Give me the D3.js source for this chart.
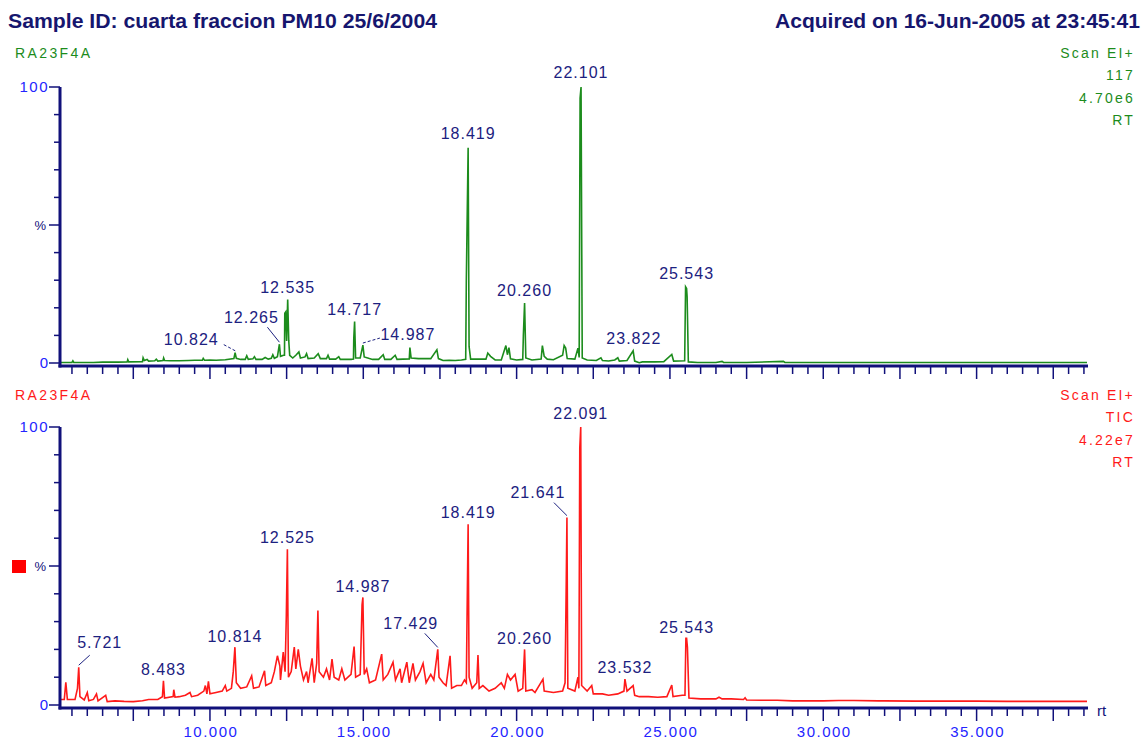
<!DOCTYPE html>
<html>
<head>
<meta charset="utf-8">
<script src="https://cdn.jsdelivr.net/npm/d3@7"></script>
<style>
  body { margin: 0; background: #fff; }
  svg { display: block; font-family: "Liberation Sans", Arial, sans-serif; }
</style>
</head>
<body>
<div id="chart"></div>
<script>
// ion 117 trace: [rt, %]
var ionTrace = [
  [5.11,0.2],[5.5,0.2],[5.53,0.8],[5.56,0.2],[6.2,0.2],[6.5,0.3],[7.0,0.3],[7.3,0.4],[7.32,1.2],[7.35,0.4],
  [7.8,0.5],[7.82,1.9],[7.86,0.9],[7.95,1.3],[8.0,0.7],[8.2,0.8],[8.25,1.4],[8.3,0.7],[8.47,0.9],[8.49,1.8],
  [8.52,0.9],[8.7,0.8],[9.0,0.8],[9.3,0.9],[9.5,1.0],[9.75,1.0],[9.78,1.7],[9.82,1.0],[10.0,1.1],[10.2,1.0],
  [10.5,1.2],[10.78,1.6],[10.82,3.7],[10.86,1.7],[11.0,1.3],[11.15,1.3],[11.2,2.6],[11.25,1.3],[11.4,1.5],[11.45,2.3],
  [11.5,1.3],[11.7,1.3],[11.8,2.0],[11.9,1.4],[12.0,1.7],[12.05,3.0],[12.1,1.7],[12.2,2.3],[12.265,6.8],[12.3,2.4],
  [12.4,2.8],[12.43,2.8],[12.44,18],[12.47,18.5],[12.5,8],[12.535,23],[12.57,8],[12.6,2.8],[12.7,1.8],[12.8,2.8],[12.9,4],
  [12.95,1.8],[13.1,2.2],[13.15,3.4],[13.2,1.6],[13.4,1.8],[13.53,3.4],[13.6,1.6],[13.8,1.6],[13.85,2.8],[13.9,1.4],
  [14.1,1.4],[14.2,2.3],[14.25,1.3],[14.6,1.3],[14.68,1.4],[14.69,9],[14.717,15],[14.75,1.8],[14.9,1.8],[14.987,6.5],[15.03,2.2],
  [15.2,1.6],[15.3,1.3],[15.5,1.3],[15.65,3.0],[15.7,1.3],[15.9,1.3],[16.04,2.8],[16.1,1.3],[16.3,1.4],[16.5,1.5],
  [16.52,5.6],[16.56,1.8],[16.8,1.6],[17.0,1.6],[17.2,1.6],[17.4,4.8],[17.45,1.6],[17.6,0.9],[17.8,1.0],[18.0,0.9],
  [18.2,1.1],[18.34,1.3],[18.36,30],[18.419,78],[18.45,6],[18.5,1.4],[18.7,1.4],[19.0,1.4],[19.06,3.6],[19.15,2.4],[19.3,1.1],
  [19.5,1.1],[19.65,6.3],[19.7,3],[19.75,5.6],[19.8,1.5],[20.0,1.1],[20.2,1.3],[20.22,10],[20.26,21.7],[20.3,1.8],[20.5,1.1],
  [20.8,1.4],[20.84,6.3],[20.9,2.4],[21.0,1.4],[21.2,1.2],[21.5,2.8],[21.55,6.3],[21.6,5.4],[21.65,1.6],[21.9,1.4],
  [22.0,5.4],[22.04,2],[22.07,96],[22.101,100],[22.14,1.8],[22.3,1.1],[22.6,0.9],[22.75,1.9],[22.8,0.9],[23.0,0.7],[23.2,1.1],
  [23.3,1.9],[23.35,0.7],[23.6,0.9],[23.8,4.4],[23.85,0.7],[24.0,0.1],[24.1,0.4],[24.5,0.4],[24.8,0.5],[25.06,3.1],
  [25.12,0.7],[25.48,0.8],[25.51,27.6],[25.543,27],[25.56,24],[25.6,0.4],[25.9,0.2],[26.5,0.2],[26.7,0.6],[26.75,0.2],
  [27.5,0.2],[28.7,0.6],[28.75,0.2],[30.0,0.2],[38.6,0.2]
];

// TIC trace: [rt, %]
var ticTrace = [
  [5.11,2],[5.25,2],[5.3,8.2],[5.35,2],[5.6,2],[5.68,6],[5.721,13.6],[5.76,3],[5.9,1.8],[6.0,4.5],
  [6.05,1.5],[6.2,2],[6.3,4],[6.35,1.5],[6.6,3.5],[6.65,1.2],[6.9,1.5],[7.2,1.3],[7.5,1.2],[7.8,1.5],
  [8.0,2],[8.3,2],[8.45,3],[8.483,8.7],[8.52,2.5],[8.8,3],[8.82,5.5],[8.86,2.8],[9.0,3],[9.2,3.5],
  [9.35,4.5],[9.4,3],[9.6,3.5],[9.8,5],[9.85,7],[9.9,4],[9.95,8.5],[10.0,4],[10.2,4.5],[10.4,5],
  [10.5,7],[10.55,5],[10.7,6],[10.76,12],[10.814,20.8],[10.86,8],[11.0,6],[11.2,6.5],[11.3,9],[11.36,10.5],
  [11.42,6],[11.6,6.5],[11.78,12.3],[11.82,7],[12.0,8],[12.1,12],[12.2,17.7],[12.28,14],[12.3,9],[12.39,19],
  [12.45,12],[12.49,32],[12.525,56],[12.56,10],[12.65,12],[12.75,20.8],[12.8,13],[12.88,20],[12.95,14],[13.05,9],
  [13.15,12],[13.2,8],[13.33,16.8],[13.4,8],[13.48,15],[13.52,34],[13.56,12],[13.7,10],[13.8,13],[13.9,9],
  [13.98,16.5],[14.05,10],[14.2,9],[14.3,13],[14.4,9],[14.5,10],[14.6,11],[14.7,21],[14.75,10],[14.9,11],
  [14.96,36],[14.987,38.7],[15.03,11],[15.11,13],[15.2,8],[15.4,9],[15.6,18.3],[15.65,9],[15.8,11],[15.97,15.4],
  [16.05,9],[16.2,13],[16.25,8],[16.42,15.4],[16.5,8],[16.62,15],[16.7,9],[16.85,12],[16.95,15],[17.05,8],
  [17.2,11],[17.3,9],[17.429,20],[17.47,10],[17.6,8],[17.7,7],[17.83,17.7],[17.88,6],[18.05,7],[18.2,7],
  [18.3,9],[18.36,8],[18.38,28],[18.419,65],[18.45,10],[18.55,6],[18.7,8],[18.74,18],[18.78,6],[18.9,7],[19.1,5],
  [19.3,6],[19.5,8],[19.6,6],[19.7,11],[19.8,9],[19.95,11],[20.05,5],[20.2,6],[20.26,20],[20.3,5],
  [20.5,5.5],[20.6,4.5],[20.86,9.3],[20.9,5],[21.2,4.5],[21.5,5],[21.58,8],[21.62,45.5],[21.641,67.4],[21.67,6],
  [21.9,5],[22.0,10],[22.03,6],[22.06,92.5],[22.091,100],[22.12,7],[22.3,5],[22.45,7],[22.5,4],[22.8,4],[23.0,3.5],
  [23.3,4],[23.5,5],[23.532,9.3],[23.6,5],[23.8,7],[23.85,3.5],[24.0,3],[24.3,3],[24.6,2.8],[24.9,3],
  [25.06,7.2],[25.1,3],[25.4,3.5],[25.49,3.5],[25.52,24],[25.543,24],[25.57,20.8],[25.62,2.5],[26.0,2.2],[26.5,2.2],[26.6,2.8],
  [26.7,2.2],[27.0,2.2],[27.4,2],[27.45,2.6],[27.5,1.8],[28.0,1.7],[28.5,1.7],[29.0,1.5],[29.5,1.5],[30.0,1.5],
  [30.5,1.6],[31.0,1.6],[31.8,1.5],[32.0,1.5],[33.0,1.4],[34.0,1.4],[35.0,1.4],[36.0,1.3],[37.0,1.3],[38.6,1.3]
];

// peak labels: [text, rt, %, text dx, text dy, leader dx, leader dy, dashed]
var ionLabels = [
  ["10.824", 10.824, 3.7, -44, -8, -13, -9, true],
  ["12.265", 12.265, 6.8, -28, -21, -12, -17, false],
  ["12.535", 12.535, 23, 0, -7, 0, 0, false],
  ["14.717", 14.717, 15, 0, -7, 0, 0, false],
  ["14.987", 14.987, 6.5, 45, -5, 17, -7, true],
  ["18.419", 18.419, 78, 0, -9, 0, 0, false],
  ["20.260", 20.26, 21.7, 0, -7, 0, 0, false],
  ["22.101", 22.101, 100, 0, -9, 0, 0, false],
  ["23.822", 23.822, 4.4, 0, -7, 0, 0, false],
  ["25.543", 25.543, 27.6, 0, -8, 0, 0, false]
];
var ticLabels = [
  ["5.721", 5.721, 13.6, 21, -19, 11, -12, false],
  ["8.483", 8.483, 8.7, 0, -6, 0, 0, false],
  ["10.814", 10.814, 20.8, 0, -5, 0, 0, false],
  ["12.525", 12.525, 56, 0, -6, 0, 0, false],
  ["14.987", 14.987, 38.7, 0, -5, 0, 0, false],
  ["17.429", 17.429, 20, -27, -20, -13, -16, false],
  ["18.419", 18.419, 65, 0, -6, 0, 0, false],
  ["20.260", 20.26, 20, 0, -5, 0, 0, false],
  ["21.641", 21.641, 67.4, -29, -20, -13, -15, false],
  ["22.091", 22.091, 100, 0, -8, 0, 0, false],
  ["23.532", 23.532, 9.3, 0, -6, 0, 0, false],
  ["25.543", 25.543, 24, 0, -5, 0, 0, false]
];

var ionInfo = ["Scan EI+", "117", "4.70e6", "RT"];
var ticInfo = ["Scan EI+", "TIC", "4.22e7", "RT"];
var xTickLabels = [10, 15, 20, 25, 30, 35];

var navy = "#10107a", blue = "#2424ff", labelCol = "#1c2180";
var green = "#1c8c1c", red = "#ff1a1a";

var width = 1148, height = 740;
var svg = d3.select("#chart").append("svg")
    .attr("width", width).attr("height", height);

// header
svg.append("text").attr("x", 8).attr("y", 28)
    .attr("font-size", 20).attr("font-weight", "bold").attr("fill", "#16166e")
    .attr("textLength", 429).attr("lengthAdjust", "spacingAndGlyphs")
    .text("Sample ID: cuarta fraccion PM10 25/6/2004");
svg.append("text").attr("x", 775).attr("y", 28)
    .attr("font-size", 20).attr("font-weight", "bold").attr("fill", "#16166e")
    .attr("textLength", 365).attr("lengthAdjust", "spacingAndGlyphs")
    .text("Acquired on 16-Jun-2005 at 23:45:41");

var x = d3.scaleLinear().domain([5.11, 38.6]).range([60, 1087]);

function drawPanel(cfg) {
    var y = d3.scaleLinear().domain([0, 100]).range([cfg.y0, cfg.y100]);
    var g = svg.append("g");

    // file name and info text
    g.append("text").attr("x", 15).attr("y", cfg.nameY)
        .attr("font-size", 14).attr("letter-spacing", 2.4).attr("fill", cfg.color)
        .text("RA23F4A");
    g.selectAll(".info").data(cfg.info).enter().append("text")
        .attr("x", 1135).attr("y", function (d, i) { return cfg.nameY + i * 22.3; })
        .attr("text-anchor", "end").attr("font-size", 14).attr("letter-spacing", 2.2)
        .attr("fill", cfg.color)
        .text(function (d) { return d; });

    // y axis ticks
    var yt = d3.range(0, 101, 10);
    g.selectAll(".yt").data(yt).enter().append("line")
        .attr("x1", function (d) { return d % 50 == 0 ? 49 : 54; }).attr("x2", 60)
        .attr("y1", function (d) { return y(d); }).attr("y2", function (d) { return y(d); })
        .attr("stroke", navy).attr("stroke-width", 1.5);
    g.append("text").attr("x", 49).attr("y", y(100) + 5).attr("text-anchor", "end")
        .attr("font-size", 15).attr("letter-spacing", 1.5).attr("fill", blue).text("100");
    g.append("text").attr("x", 48).attr("y", y(0) + 5).attr("text-anchor", "end")
        .attr("font-size", 15).attr("fill", blue).text("0");
    g.append("text").attr("x", 46).attr("y", y(50) + 5).attr("text-anchor", "end")
        .attr("font-size", 13).attr("fill", navy).text("%");

    // x axis ticks
    var xt = d3.range(11, 78).map(function (i) { return i / 2; });
    g.selectAll(".xt").data(xt).enter().append("line")
        .attr("x1", function (d) { return x(d); }).attr("x2", function (d) { return x(d); })
        .attr("y1", cfg.axisY)
        .attr("y2", function (d) { return cfg.axisY + ((d * 2) % 5 == 0 ? 13 : 8); })
        .attr("stroke", navy).attr("stroke-width", 1.5);
    if (cfg.xLabels) {
        g.selectAll(".xl").data(xTickLabels).enter().append("text")
            .attr("x", function (d) { return x(d) + 1; }).attr("y", 737)
            .attr("text-anchor", "middle").attr("font-size", 15).attr("letter-spacing", 1.5)
            .attr("fill", blue)
            .text(function (d) { return d3.format(".3f")(d); });
        g.append("text").attr("x", 1097).attr("y", 716)
            .attr("font-size", 15).attr("fill", navy).text("rt");
    }

    // trace
    var line = d3.line().x(function (d) { return x(d[0]); }).y(function (d) { return y(d[1]); });
    g.append("path").datum(cfg.trace).attr("d", line)
        .attr("fill", "none").attr("stroke", cfg.color).attr("stroke-width", 1.6);

    // axes lines
    g.append("line").attr("x1", 60).attr("x2", 60).attr("y1", y(100)).attr("y2", cfg.axisY + 1.5)
        .attr("stroke", navy).attr("stroke-width", 3);
    g.append("line").attr("x1", 58.5).attr("x2", 1088).attr("y1", cfg.axisY).attr("y2", cfg.axisY)
        .attr("stroke", navy).attr("stroke-width", 3);

    // peak labels
    cfg.labels.forEach(function (d) {
        var px = x(d[1]), py = y(d[2]);
        if (d[5] != 0 || d[6] != 0) {
            g.append("line").attr("x1", px).attr("y1", py - 2)
                .attr("x2", px + d[5]).attr("y2", py + d[6])
                .attr("stroke", labelCol).attr("stroke-width", 1)
                .attr("stroke-dasharray", d[7] ? "3,2" : null);
        }
        g.append("text").attr("x", px + d[3]).attr("y", py + d[4])
            .attr("text-anchor", "middle")
            .attr("font-size", 16).attr("letter-spacing", 1).attr("fill", labelCol)
            .text(d[0]);
    });

    if (cfg.square) {
        g.append("rect").attr("x", 12).attr("y", y(50) - 6).attr("width", 14).attr("height", 13)
            .attr("fill", "#ff0000");
    }
}

drawPanel({ y0: 363, y100: 87, axisY: 366, nameY: 58, color: green, info: ionInfo,
            trace: ionTrace, labels: ionLabels, xLabels: false, square: false });
drawPanel({ y0: 705, y100: 427, axisY: 708, nameY: 400, color: red, info: ticInfo,
            trace: ticTrace, labels: ticLabels, xLabels: true, square: true });
</script>
</body>
</html>
